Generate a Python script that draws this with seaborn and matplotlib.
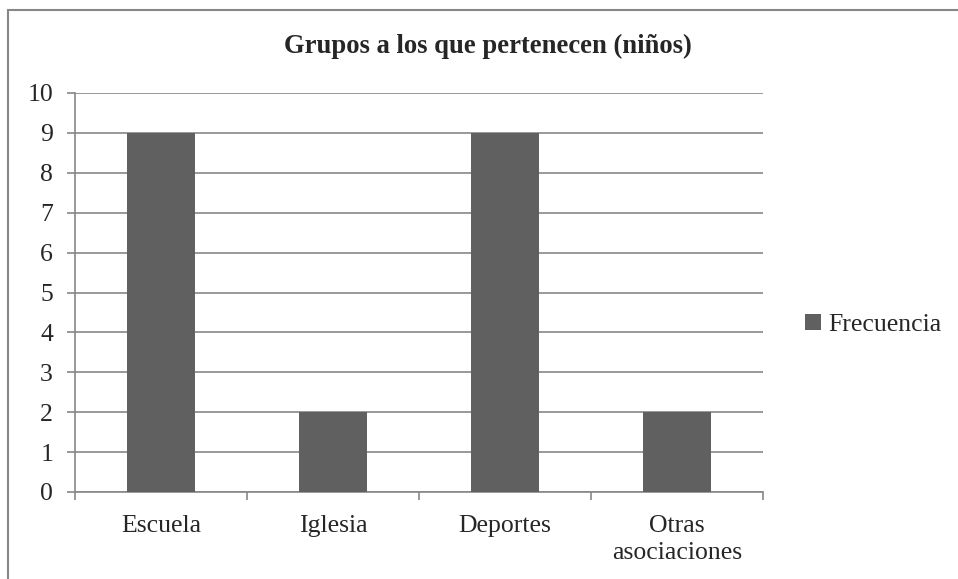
import numpy as np
import pandas as pd
import matplotlib
matplotlib.use("Agg")
import matplotlib.pyplot as plt
from matplotlib.patches import Rectangle
from matplotlib.ticker import FixedLocator
import seaborn as sns

# Data
categorias = ["Escuela", "Iglesia", "Deportes", "Otras\nasociaciones"]
frecuencia = [9, 2, 9, 2]
serie = "Frecuencia"
titulo = "Grupos a los que pertenecen (niños)"

df = pd.DataFrame({"grupo": categorias, "n": frecuencia})

sns.set_style("white")
plt.rcParams['font.family'] = ['Liberation Serif', 'DejaVu Serif']

W, H = 958, 579
fig = plt.figure(figsize=(W / 100, H / 100), dpi=100)
ax = fig.add_axes([75 / W, (H - 492) / H, (763 - 75) / W, (492 - 93) / H])

grid_col = "#878787"
bar_col = "#606060"

sns.barplot(data=df, x="grupo", y="n", ax=ax, color=bar_col, width=0.4,
            label=serie, saturation=1, linewidth=0, zorder=3)

ax.set_ylim(0, 10)
ax.set_xlim(-0.5, len(categorias) - 0.5)
ax.set_yticks(range(0, 11))
ax.yaxis.grid(True, color=grid_col, linewidth=1.2, zorder=0)
ax.set_axisbelow(True)
ax.set_xlabel("")
ax.set_ylabel("")

for s in ["top", "right"]:
    ax.spines[s].set_visible(False)
for s in ["left", "bottom"]:
    ax.spines[s].set_color(grid_col)
    ax.spines[s].set_linewidth(1.2)

ax.tick_params(axis="y", length=5.8, width=1.2, color=grid_col, pad=10,
               labelsize=18.5, left=True)
ax.tick_params(axis="x", which="major", length=0, pad=16.5, labelsize=18.5)
ax.xaxis.set_minor_locator(FixedLocator(np.arange(-0.5, len(categorias), 1.0)))
ax.tick_params(axis="x", which="minor", length=5.8, width=1.2, color=grid_col,
               bottom=True)
for lbl in ax.get_xticklabels():
    lbl.set_linespacing(1.3)

leg = ax.legend(loc="center left", bbox_to_anchor=(805 / W, (H - 325) / H),
                bbox_transform=fig.transFigure, frameon=False, fontsize=18.5,
                handlelength=0.62, handleheight=0.62, handletextpad=0.3,
                borderaxespad=0, borderpad=0)

fig.text(488 / W, (H - 46) / H, titulo, ha="center", va="center",
         fontsize=19.2, fontweight="bold")

# outer chart border (cut off at right and bottom)
fig.add_artist(Rectangle((8 / W, -0.1), 1.2, (H - 10) / H + 0.1,
                         transform=fig.transFigure, fill=False,
                         edgecolor=grid_col, linewidth=1.5))

fig.savefig("out.png", dpi=100)
